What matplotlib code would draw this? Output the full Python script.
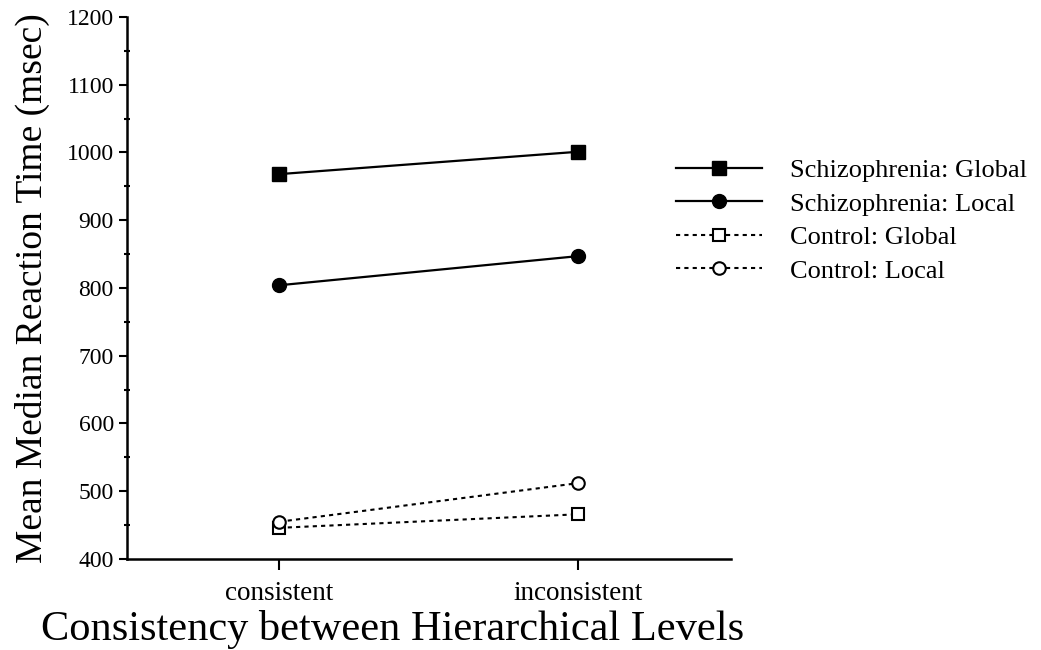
import numpy as np
import matplotlib
matplotlib.use("Agg")
import matplotlib.pyplot as plt
from matplotlib.ticker import MultipleLocator

# data
conditions = ["consistent", "inconsistent"]
schizo_global = [968, 1001]
schizo_local = [804, 847]
control_global = [446, 466]
control_local = [455, 512]

plt.rcParams['font.family'] = ['Liberation Serif', 'DejaVu Serif']

fig = plt.figure(figsize=(10.41, 6.5), dpi=100)
ax = fig.add_axes([0.122, 0.14, 0.58, 0.834])

x = np.arange(len(conditions))
ax.plot(x, schizo_global, '-', color='black', lw=1.6, marker='s', ms=10,
        label='Schizophrenia: Global')
ax.plot(x, schizo_local, '-', color='black', lw=1.6, marker='o', ms=10,
        label='Schizophrenia: Local')
ax.plot(x, control_global, color='black', lw=1.5, ls=(0, (2, 2)), marker='s', ms=9,
        mfc='white', mew=1.5, label='Control: Global')
ax.plot(x, control_local, color='black', lw=1.5, ls=(0, (2, 2)), marker='o', ms=9,
        mfc='white', mew=1.5, label='Control: Local')

ax.set_xlim(-0.51, 1.51)
ax.set_ylim(400, 1200)
ax.set_xticks(x)
ax.set_xticklabels(conditions)
ax.yaxis.set_major_locator(MultipleLocator(100))
ax.yaxis.set_minor_locator(MultipleLocator(50))
ax.tick_params(axis='y', which='major', direction='out', length=6, width=1.5, labelsize=17)
ax.tick_params(axis='y', which='minor', direction='inout', length=5, width=1.5)
ax.tick_params(axis='x', direction='out', length=8, width=1.5, labelsize=19.5, pad=8)

for side in ['top', 'right']:
    ax.spines[side].set_visible(False)
for side in ['left', 'bottom']:
    ax.spines[side].set_linewidth(1.8)

ax.set_ylabel('Mean Median Reaction Time (msec)', fontsize=27, labelpad=12)
ax.set_xlabel('Consistency between Hierarchical Levels', fontsize=30.5, va='baseline')
ax.xaxis.set_label_coords(0.44, -0.1494)

fig.legend(loc='upper left', bbox_to_anchor=(0.649, 0.756), frameon=False,
           borderpad=0, borderaxespad=0,
           fontsize=19, handlelength=3.26, handletextpad=1.06, labelspacing=0.38)

fig.savefig('out.png', dpi=100)
